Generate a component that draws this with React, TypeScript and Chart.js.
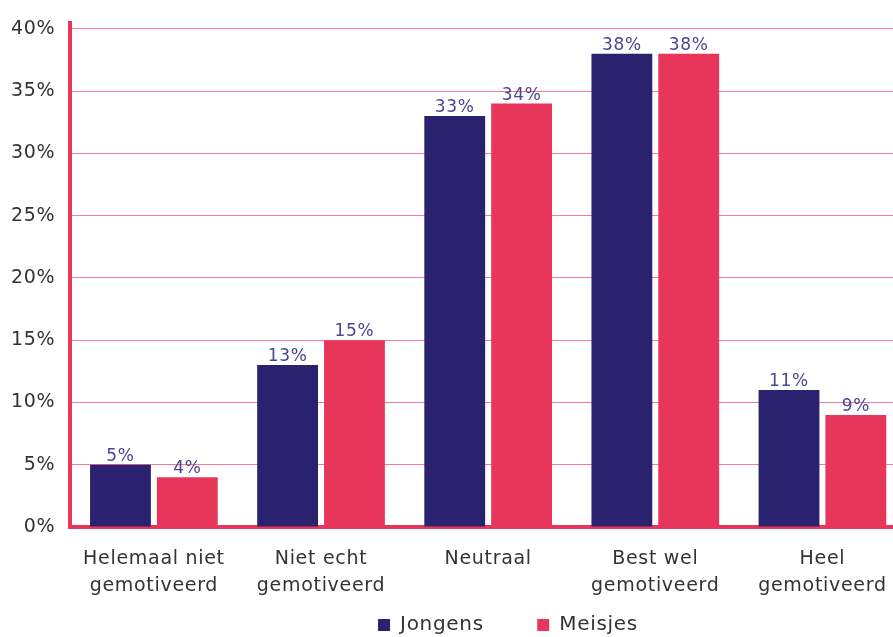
import React, { useEffect, useRef } from "react";
import { Chart, registerables } from "chart.js";

Chart.register(...registerables);

const categories: string[][] = [
  ["Helemaal niet", "gemotiveerd"],
  ["Niet echt", "gemotiveerd"],
  ["Neutraal"],
  ["Best wel", "gemotiveerd"],
  ["Heel", "gemotiveerd"],
];
const jongens = [5, 13, 33, 38, 11];
const meisjes = [4, 15, 34, 38, 9];
const yTicks = [0, 5, 10, 15, 20, 25, 30, 35, 40];

const NAVY = "#2a226e";
const PINK = "#e8355a";
const FONT = "'DejaVu Sans', sans-serif";
const SPACING = "0.7px";

const spacingPlugin = {
  id: "spacing",
  beforeUpdate(chart: any) {
    chart.ctx.letterSpacing = SPACING;
  },
  beforeDraw(chart: any) {
    chart.ctx.letterSpacing = SPACING;
  },
  afterLayout(chart: any) {
    const lg = chart.legend;
    if (!lg) return;
    const dx = 508 - (lg.left + lg.right) / 2;
    lg.left += dx;
    lg.right += dx;
    const h = lg.bottom - lg.top;
    const newTop = 625 - 4 - 10;
    lg.top = newTop;
    lg.bottom = newTop + h;
  },
};

const valueLabels = {
  id: "valueLabels",
  afterDatasetsDraw(chart: any) {
    const ctx = chart.ctx;
    ctx.save();
    ctx.letterSpacing = SPACING;
    ctx.font = `17px ${FONT}`;
    ctx.fillStyle = "#4b4592";
    ctx.textAlign = "center";
    ctx.textBaseline = "alphabetic";
    chart.data.datasets.forEach((ds: any, i: number) => {
      const meta = chart.getDatasetMeta(i);
      meta.data.forEach((bar: any, j: number) => {
        ctx.fillText(`${ds.data[j]}%`, bar.x, bar.y - 4);
      });
    });
    ctx.restore();
  },
};

export default function App() {
  const ref = useRef<HTMLCanvasElement>(null);
  useEffect(() => {
    if (!ref.current) return;
    const chart = new Chart(ref.current, {
      type: "bar",
      data: {
        labels: categories,
        datasets: [
          { label: "Jongens", data: jongens, backgroundColor: NAVY },
          { label: "Meisjes", data: meisjes, backgroundColor: PINK },
        ],
      },
      options: {
        animation: false,
        responsive: false,
        layout: { autoPadding: false, padding: { left: -4, right: 4, top: 22, bottom: -16 } },
        datasets: {
          bar: { categoryPercentage: 0.8, barPercentage: 0.91 },
        } as any,
        scales: {
          x: {
            grid: { display: false, drawTicks: false },
            border: { display: true, color: PINK, width: 4 },
            ticks: {
              color: "#333333",
              font: { family: FONT, size: 19, lineHeight: 1.42 },
              padding: 19,
              maxRotation: 0,
              autoSkip: false,
            },
          },
          y: {
            min: 0,
            max: 40.5,
            afterBuildTicks: (scale: any) => {
              scale.ticks = yTicks.map((v) => ({ value: v }));
            },
            grid: { color: "#f27a94", lineWidth: 1, drawTicks: false },
            border: { display: true, color: PINK, width: 4 },
            ticks: {
              color: "#333333",
              font: { family: FONT, size: 19, lineHeight: 0.8 },
              padding: 15,
              callback: (v: any) => `${v}%`,
            },
          },
        },
        plugins: {
          legend: {
            position: "bottom",
            labels: {
              boxWidth: 12,
              boxHeight: 12,
              padding: 4,
              color: "#333333",
              font: { family: FONT, size: 20 },
              generateLabels: (chart: any) => {
                const items = Chart.defaults.plugins.legend.labels.generateLabels(chart);
                return items.map((it: any, i: number) =>
                  i < items.length - 1 ? { ...it, text: it.text + "       " } : it
                );
              },
            },
          },
          tooltip: { enabled: false },
        },
      },
      plugins: [spacingPlugin, valueLabels],
    });
    return () => chart.destroy();
  }, []);
  return (
    <div
      style={{
        position: "fixed",
        left: 0,
        top: 0,
        width: 893,
        height: 637,
        overflow: "hidden",
        background: "#fff",
      }}
    >
      <canvas ref={ref} width={910} height={637} style={{ width: 910, height: 637 }} />
    </div>
  );
}
